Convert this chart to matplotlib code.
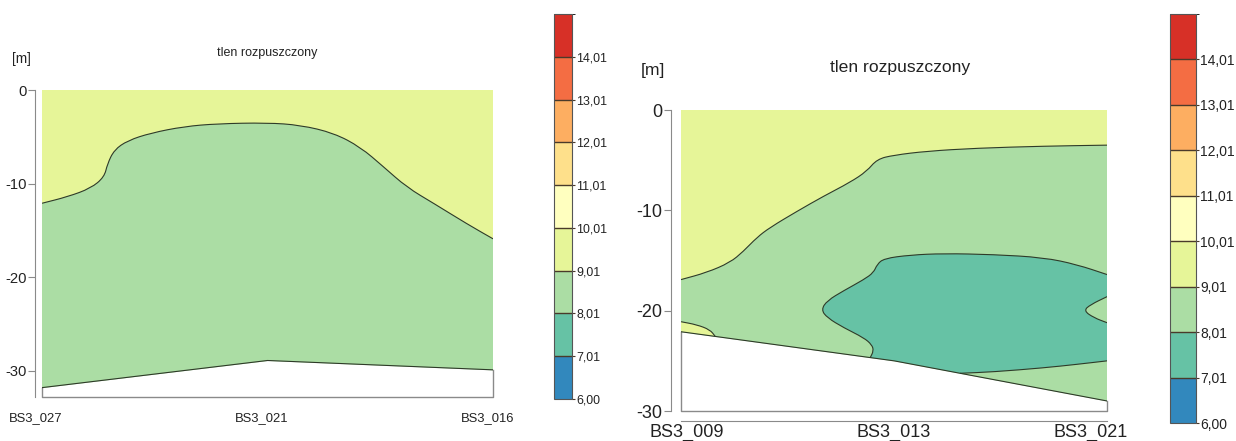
import numpy as np
import matplotlib
matplotlib.use('Agg')
import matplotlib.pyplot as plt
import matplotlib.transforms as mtransforms
from matplotlib import font_manager
from matplotlib.colors import ListedColormap, BoundaryNorm
from matplotlib.cm import ScalarMappable
from matplotlib.path import Path
from matplotlib.patches import PathPatch

title = 'tlen rozpuszczony'
unit = '[m]'
levels = [6.00, 7.01, 8.01, 9.01, 10.01, 11.01, 12.01, 13.01, 14.01, 15.01]
level_colors = ['#3288bd', '#66c2a5', '#abdda4', '#e6f598', '#ffffbf',
                '#fee08b', '#fdae61', '#f46d43', '#d73027']
depth_ticks = [0, -10, -20, -30]

# przekroj lewy
left_stations = ['BS3_027', 'BS3_021', 'BS3_016']
left_sea_x = [0.0, 0.5, 1.0]
left_sea_d = [-31.8, -28.9, -29.9]
left_iso9_x = [0.0, 0.057, 0.108, 0.138, 0.145, 0.160, 0.190, 0.241, 0.315, 0.389,
               0.499, 0.573, 0.647, 0.706, 0.757, 0.809, 0.868, 0.942, 1.0]
left_iso9_d = [-12.1, -11.4, -10.5, -9.3, -7.9, -6.4, -5.4, -4.6, -3.9, -3.6,
               -3.5, -3.75, -4.6, -6.1, -8.2, -10.4, -12.1, -14.3, -15.9]

# przekroj prawy
right_stations = ['BS3_009', 'BS3_013', 'BS3_021']
right_sea_x = [0.0, 0.5, 1.0]
right_sea_d = [-22.1, -25.0, -29.0]
right_iso9_x = [0.0, 0.060, 0.115, 0.146, 0.178, 0.209, 0.272, 0.334, 0.397, 0.436,
                0.460, 0.499, 0.577, 0.694, 0.851, 1.0]
right_iso9_d = [-16.9, -16.2, -15.2, -14.1, -12.7, -11.7, -10.1, -8.6, -7.2, -6.1,
                -4.9, -4.5, -4.1, -3.8, -3.6, -3.5]
# mala plama 9-10 przy dnie
right_patch_x = [0.0, 0.037, 0.068, 0.080]
right_patch_d = [-21.1, -21.4, -21.9, -22.55]
# obszar 7-8
right_iso8_top_x = [1.0, 0.929, 0.851, 0.733, 0.616, 0.538, 0.476, 0.460, 0.452, 0.429,
                    0.382, 0.343, 0.329, 0.343, 0.382, 0.429, 0.448, 0.452, 0.444]
right_iso8_top_d = [-16.4, -15.4, -14.7, -14.4, -14.3, -14.45, -14.8, -15.4, -16.2, -16.9,
                    -18.0, -19.0, -19.9, -20.7, -21.7, -22.7, -23.4, -24.0, -24.68]
right_iso8_bot_x = [0.655, 0.733, 0.851, 0.929, 1.0]
right_iso8_bot_d = [-26.24, -26.1, -25.7, -25.35, -25.0]
right_notch_x = [1.0, 0.969, 0.945, 0.961, 1.0]
right_notch_d = [-21.2, -20.7, -20.0, -19.4, -18.6]

line_col = '#2e3a28'
frame_col = '#8a8a8a'
text_col = '#222222'

plt.rcParams['font.family'] = ['Liberation Sans', 'DejaVu Sans']
plt.rcParams['axes.unicode_minus'] = False
names = {f.name for f in font_manager.fontManager.ttflist}
if 'Liberation Sans Narrow' in names:
    left_font = ['Liberation Sans Narrow', 'DejaVu Sans']
    k = 1.0
else:
    left_font = ['Liberation Sans', 'DejaVu Sans']
    k = 0.85
right_font = ['Liberation Sans', 'DejaVu Sans']

fig = plt.figure(figsize=(12.36, 4.41), dpi=100)


def smooth(xs, ys):
    # wygladzona linia przez punkty (krzywe Beziera przez srodki odcinkow)
    pts = list(zip(xs, ys))
    verts = [pts[0]]
    codes = [Path.MOVETO]
    if len(pts) > 2:
        verts.append(((pts[0][0] + pts[1][0]) / 2, (pts[0][1] + pts[1][1]) / 2))
        codes.append(Path.LINETO)
        for i in range(1, len(pts) - 1):
            m = ((pts[i][0] + pts[i + 1][0]) / 2, (pts[i][1] + pts[i + 1][1]) / 2)
            verts += [pts[i], m]
            codes += [Path.CURVE3, Path.CURVE3]
    verts.append(pts[-1])
    codes.append(Path.LINETO)
    return verts, codes


def area(pieces, color, ax):
    verts, codes = [], []
    for xs, ys, is_smooth in pieces:
        if is_smooth:
            v, c = smooth(xs, ys)
        else:
            v, c = list(zip(xs, ys)), [Path.LINETO] * len(xs)
        if verts:
            c = [Path.LINETO] + c[1:]
        verts += v
        codes += c
    verts.append(verts[0])
    codes.append(Path.CLOSEPOLY)
    ax.add_patch(PathPatch(Path(verts, codes), facecolor=color, lw=0))


def contour_line(ax, xs, ys):
    v, c = smooth(xs, ys)
    ax.add_patch(PathPatch(Path(v, c), fill=False, edgecolor=line_col, lw=0.8, zorder=2))


def panel(rect, ybot, offset, font, fs, sea_x, iso_x, iso_d):
    ax = fig.add_axes(rect)
    ax.set_xlim(0, 1)
    ax.set_ylim(ybot, 0)
    ax.fill_between(sea_x, 0, ybot, color=level_colors[3], lw=0)
    area([(iso_x, iso_d, True), ([1, 0], [ybot, ybot], False)], level_colors[2], ax)
    contour_line(ax, iso_x, iso_d)
    for s in ['top', 'right', 'bottom']:
        ax.spines[s].set_visible(False)
    ax.spines['left'].set_position(('outward', offset))
    ax.spines['left'].set_bounds(ybot, 0)
    ax.spines['left'].set_color(frame_col)
    ax.set_xticks([])
    ax.set_yticks(depth_ticks)
    ax.set_yticklabels([str(t) for t in depth_ticks], family=font, color=text_col,
                       fontsize=fs)
    ax.tick_params(axis='y', length=5, color=frame_col, pad=1)
    return ax


def seabed(ax, sea_x, sea_d, ybot):
    ax.fill_between(sea_x, sea_d, ybot, color='white', lw=0, zorder=3)
    ax.plot([0, 0, 1, 1], [sea_d[0], ybot, ybot, sea_d[-1]], color=frame_col,
            lw=1, clip_on=False, zorder=4)
    ax.plot(sea_x, sea_d, color=line_col, lw=0.8, zorder=4)


# lewy
ax1 = panel([0.034, 0.0998, 0.3649, 0.6961], -32.8, 5, left_font, 12.5 * k,
            left_sea_x, left_iso9_x, left_iso9_d)
seabed(ax1, left_sea_x, left_sea_d, -32.8)
trans1 = mtransforms.blended_transform_factory(ax1.transData, fig.transFigure)
for x, name in zip([-0.015, 0.488, 0.987], left_stations):
    ax1.text(x, 0.052, name, transform=trans1, ha='center', va='center',
             fontsize=11 * k, family=left_font, color=text_col)
fig.text(0.216, 0.880, title, ha='center', va='center', fontsize=10.6 * k,
         family=left_font, color=text_col)
fig.text(0.0176, 0.866, unit, ha='center', va='center', fontsize=11.5 * k,
         family=left_font, color=text_col)

# prawy
ax2 = panel([0.551, 0.068, 0.3447, 0.6825], -30, 7.2, right_font, 13,
            right_sea_x, right_iso9_x, right_iso9_d)
area([(right_patch_x, right_patch_d, True), ([0.0], [right_sea_d[0]], False)],
     level_colors[3], ax2)
contour_line(ax2, right_patch_x, right_patch_d)
lo, hi = right_iso8_top_x[-1], right_iso8_bot_x[0]
sea_mid_x = [x for x in right_sea_x if lo < x < hi]
sea_mid_d = [d for x, d in zip(right_sea_x, right_sea_d) if lo < x < hi]
area([(right_iso8_top_x, right_iso8_top_d, True),
      (sea_mid_x, sea_mid_d, False),
      (right_iso8_bot_x, right_iso8_bot_d, True),
      (right_notch_x, right_notch_d, True)], level_colors[1], ax2)
contour_line(ax2, right_iso8_top_x, right_iso8_top_d)
contour_line(ax2, right_iso8_bot_x, right_iso8_bot_d)
contour_line(ax2, right_notch_x, right_notch_d)
seabed(ax2, right_sea_x, right_sea_d, -30)
ax2.spines['bottom'].set_visible(True)
ax2.spines['bottom'].set_position(('outward', 7.2))
ax2.spines['bottom'].set_color(frame_col)
trans2 = mtransforms.blended_transform_factory(ax2.transData, fig.transFigure)
for x, name in zip([0.014, 0.498, 0.962], right_stations):
    ax2.text(x, 0.0204, name, transform=trans2, ha='center', va='center',
             fontsize=13, family=right_font, color=text_col)
fig.text(0.728, 0.846, title, ha='center', va='center', fontsize=12.6,
         family=right_font, color=text_col)
fig.text(0.528, 0.840, unit, ha='center', va='center', fontsize=12.6,
         family=right_font, color=text_col)

# skale barw
cmap = ListedColormap(level_colors)
norm = BoundaryNorm(levels, cmap.N)
cb_labels = [('%.2f' % v).replace('.', ',') for v in levels[:-1]]
for rect, font, fs in [([0.4482, 0.0952, 0.01456, 0.873], left_font, 10.5 * k),
                       ([0.9466, 0.0408, 0.021, 0.9274], right_font, 10)]:
    cax = fig.add_axes(rect)
    cb = fig.colorbar(ScalarMappable(norm=norm, cmap=cmap), cax=cax, drawedges=True)
    cb.dividers.set_color('#4a3a2a')
    cb.dividers.set_linewidth(1)
    cb.outline.set_edgecolor('#555555')
    cb.outline.set_linewidth(0.8)
    cb.set_ticks(levels[:-1])
    cb.ax.set_yticklabels(cb_labels, family=font, color=text_col, fontsize=fs)
    cax.tick_params(length=2, width=0.8, color='#4a3a2a', pad=1)

fig.savefig('out.png', dpi=100)
